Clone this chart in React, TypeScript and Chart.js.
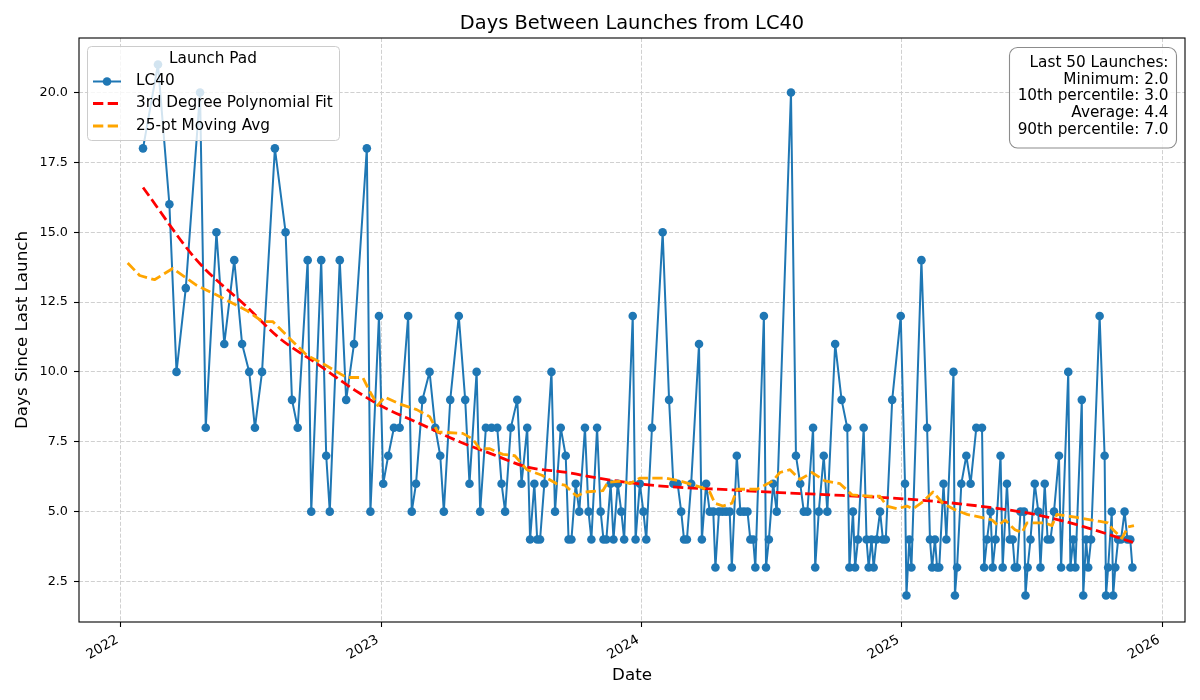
import { useEffect, useRef } from "react";
import { Chart, registerables } from "chart.js";
import type { Plugin } from "chart.js";

Chart.register(...registerables);

// days since the previous launch, one value per LC40 launch, oldest first
const FIRST_LAUNCH = "2022-02-01";
const GAP_DAYS = [
  18, 21, 16, 10, 13, 20, 8, 15, 11, 14,
  11, 10, 8, 10, 18, 15, 9, 8, 14, 5,
  14, 7, 5, 14, 9, 11, 18, 5, 12, 6,
  7, 8, 8, 12, 5, 6, 9, 10, 8, 7,
  5, 9, 12, 9, 6, 10, 5, 8, 8, 8,
  6, 5, 8, 9, 6, 8, 4, 6, 4, 4,
  6, 10, 5, 8, 7, 4, 4, 6, 5, 8,
  5, 4, 8, 5, 4, 4, 6, 4, 6, 5,
  4, 12, 4, 6, 5, 4, 8, 15, 9, 6,
  6, 5, 4, 4, 6, 11, 4, 6, 5, 5,
  3, 5, 5, 5, 5, 3, 7, 5, 5, 5,
  4, 4, 3, 12, 3, 4, 6, 5, 20, 7,
  6, 5, 5, 8, 3, 5, 7, 5, 11, 9,
  8, 3, 5, 3, 4, 8, 4, 3, 4, 3,
  4, 5, 4, 4, 9, 12, 6, 2, 4, 3,
  14, 8, 4, 3, 4, 3, 3, 6, 4, 10,
  2, 3, 6, 7, 6, 8, 8, 3, 4, 5,
  3, 4, 7, 3, 6, 4, 4, 3, 3, 5,
  5, 2, 3, 4, 6, 5, 3, 6, 4, 4,
  5, 7, 3, 10, 3, 4, 3, 9, 2, 4,
  3, 4, 12, 7, 2, 3, 5, 2, 3, 4,
  4, 5, 4, 4, 3,
];

// 3rd degree polynomial fit (decimal year -> days)
const FIT_YEARS = [
  2022.085, 2022.291, 2022.487, 2022.61, 2022.752, 2022.898, 2023.006, 2023.136,
  2023.301, 2023.428, 2023.559, 2023.713, 2023.832, 2024.001, 2024.147, 2024.339,
  2024.531, 2024.723, 2024.934, 2025.146, 2025.338, 2025.511, 2025.684, 2025.887,
];
const FIT_VALUES = [
  16.6, 14.0, 12.3, 11.2, 10.3, 9.35, 8.75, 8.2,
  7.5, 7.05, 6.6, 6.4, 6.2, 5.98, 5.87, 5.78,
  5.68, 5.6, 5.5, 5.35, 5.15, 4.9, 4.5, 3.9,
];

// 25-pt moving average
const AVG_YEARS = [
  2022.026, 2022.072, 2022.129, 2022.199, 2022.291, 2022.379, 2022.483, 2022.544,
  2022.583, 2022.648, 2022.714, 2022.775, 2022.867, 2022.929, 2022.956, 2022.986,
  2023.013, 2023.071, 2023.136, 2023.186, 2023.217, 2023.313, 2023.351, 2023.378,
  2023.417, 2023.467, 2023.513, 2023.559, 2023.617, 2023.674, 2023.705, 2023.751,
  2023.782, 2023.851, 2023.87, 2023.924, 2023.955, 2023.993, 2024.089, 2024.147,
  2024.235, 2024.262, 2024.281, 2024.312, 2024.347, 2024.366, 2024.443, 2024.504,
  2024.531, 2024.57, 2024.608, 2024.654, 2024.704, 2024.762, 2024.808, 2024.877,
  2024.915, 2024.942, 2024.981, 2025.019, 2025.042, 2025.08, 2025.119, 2025.157,
  2025.196, 2025.25, 2025.3, 2025.346, 2025.369, 2025.396, 2025.434, 2025.461,
  2025.48, 2025.549, 2025.576, 2025.595, 2025.665, 2025.761, 2025.791, 2025.811,
  2025.845, 2025.868, 2025.891,
];
const AVG_VALUES = [
  13.9, 13.45, 13.3, 13.7, 13.1, 12.7, 12.2, 11.8,
  11.8, 11.2, 10.6, 10.3, 9.8, 9.8, 9.3, 8.8,
  9.1, 8.85, 8.65, 8.4, 7.85, 7.8, 7.6, 7.25,
  7.25, 7.05, 7.0, 6.5, 6.3, 6.0, 5.95, 5.55,
  5.7, 5.75, 6.05, 6.1, 6.0, 6.2, 6.2, 6.1,
  5.85, 5.7, 5.3, 5.2, 5.3, 5.8, 5.8, 6.1,
  6.4, 6.5, 6.15, 6.4, 6.1, 6.0, 5.6, 5.55,
  5.55, 5.2, 5.1, 5.2, 5.1, 5.35, 5.7, 5.3,
  5.1, 4.9, 4.8, 4.7, 4.5, 4.7, 4.35, 4.25,
  4.6, 4.6, 4.5, 4.9, 4.8, 4.65, 4.6, 4.35,
  4.05, 4.45, 4.5,
];

const YEAR_TICKS = [2022, 2023, 2024, 2025, 2026];
const Y_TICKS = [2.5, 5, 7.5, 10, 12.5, 15, 17.5, 20];
const SERIES_LABELS = ["LC40", "3rd Degree Polynomial Fit", "25-pt Moving Avg"];
const STATS_LINES = [
  "Last 50 Launches:",
  "Minimum: 2.0",
  "10th percentile: 3.0",
  "Average: 4.4",
  "90th percentile: 7.0",
];

const FONT = "'DejaVu Sans', sans-serif";
const BLUE = "#1f77b4";
const RED = "#ff0000";
const ORANGE = "#ffa500";
const DASH = [10.3, 4.4];
const DAY_MS = 86400000;

function toYear(ms: number) {
  return 2022 + (ms - Date.UTC(2022, 0, 1)) / (365.25 * DAY_MS);
}

function launchPoints() {
  let t = Date.parse(FIRST_LAUNCH);
  return GAP_DAYS.map((gap, i) => {
    if (i > 0) t += gap * DAY_MS;
    return { x: toYear(t), y: gap };
  });
}

const decorations: Plugin<"line"> = {
  id: "decorations",
  afterDraw(chart) {
    const { ctx, chartArea: a } = chart;
    const midX = (a.left + a.right) / 2;
    ctx.save();

    // axes frame
    ctx.strokeStyle = "#000";
    ctx.lineWidth = 1.1;
    ctx.strokeRect(a.left, a.top, a.right - a.left, a.bottom - a.top);

    // rotated year labels, right end at the tick like autofmt_xdate
    const xScale = chart.scales.x;
    ctx.fillStyle = "#000";
    ctx.font = `13.5px ${FONT}`;
    ctx.textAlign = "right";
    ctx.textBaseline = "middle";
    YEAR_TICKS.forEach((year) => {
      const px = xScale.getPixelForValue(year);
      ctx.save();
      ctx.translate(px - 3.5, a.bottom + 17);
      ctx.rotate(-Math.PI / 6);
      ctx.fillText(String(year), 0, 0);
      ctx.restore();
    });

    // title and axis labels
    ctx.textAlign = "center";
    ctx.font = `19.4px ${FONT}`;
    ctx.fillText("Days Between Launches from LC40", midX, 24);
    ctx.font = `16.7px ${FONT}`;
    ctx.fillText("Date", midX, 676);
    ctx.save();
    ctx.translate(23, (a.top + a.bottom) / 2);
    ctx.rotate(-Math.PI / 2);
    ctx.fillText("Days Since Last Launch", 0, 0);
    ctx.restore();

    // legend
    ctx.beginPath();
    ctx.roundRect(87.5, 46.5, 252, 94, 4);
    ctx.fillStyle = "rgba(255,255,255,0.8)";
    ctx.fill();
    ctx.strokeStyle = "#cccccc";
    ctx.lineWidth = 1;
    ctx.stroke();

    ctx.font = `15.3px ${FONT}`;
    ctx.fillStyle = "#000";
    ctx.fillText("Launch Pad", 213, 59);

    const rows = [81.5, 103.5, 126];
    const styles = [
      { color: BLUE, width: 2, dash: [] as number[] },
      { color: RED, width: 2.8, dash: DASH },
      { color: ORANGE, width: 2.8, dash: DASH },
    ];
    rows.forEach((y, i) => {
      const s = styles[i];
      ctx.beginPath();
      ctx.setLineDash(s.dash);
      ctx.strokeStyle = s.color;
      ctx.lineWidth = s.width;
      ctx.moveTo(93, y);
      ctx.lineTo(121, y);
      ctx.stroke();
      ctx.setLineDash([]);
      if (i === 0) {
        ctx.beginPath();
        ctx.arc(107, y, 4.3, 0, Math.PI * 2);
        ctx.fillStyle = BLUE;
        ctx.fill();
      }
      ctx.fillStyle = "#000";
      ctx.textAlign = "left";
      ctx.fillText(SERIES_LABELS[i], 136, y);
    });

    // stats box
    ctx.beginPath();
    ctx.roundRect(1009.5, 47.5, 167, 100.5, 8);
    ctx.fillStyle = "rgba(255,255,255,0.8)";
    ctx.fill();
    ctx.strokeStyle = "#8c8c8c";
    ctx.lineWidth = 1.1;
    ctx.stroke();
    ctx.fillStyle = "#000";
    ctx.textAlign = "right";
    STATS_LINES.forEach((line, i) => {
      ctx.fillText(line, 1168.5, 62.7 + i * 16.9);
    });

    ctx.restore();
  },
};

export default function App() {
  const chartRef = useRef<HTMLCanvasElement>(null);

  useEffect(() => {
    document.body.style.margin = "0";
    if (!chartRef.current) return;
    const ctx = chartRef.current.getContext("2d");
    if (!ctx) return;

    Chart.defaults.font.family = FONT;

    const grid = {
      color: "#d0d0d0",
      lineWidth: 1,
      tickLength: 5,
      tickColor: "#000",
      tickWidth: 1.1,
    };

    const chartInstance = new Chart(ctx, {
      type: "line",
      data: {
        datasets: [
          {
            label: SERIES_LABELS[0],
            data: launchPoints(),
            borderColor: BLUE,
            backgroundColor: BLUE,
            borderWidth: 2,
            borderJoinStyle: "round",
            pointRadius: 4.3,
            pointBorderWidth: 0,
            pointBackgroundColor: BLUE,
            tension: 0,
            order: 3,
          },
          {
            label: SERIES_LABELS[1],
            data: FIT_YEARS.map((x, i) => ({ x, y: FIT_VALUES[i] })),
            borderColor: RED,
            borderWidth: 2.8,
            borderDash: DASH,
            pointRadius: 0,
            cubicInterpolationMode: "monotone",
            order: 2,
          },
          {
            label: SERIES_LABELS[2],
            data: AVG_YEARS.map((x, i) => ({ x, y: AVG_VALUES[i] })),
            borderColor: ORANGE,
            borderWidth: 2.8,
            borderDash: DASH,
            borderJoinStyle: "round",
            pointRadius: 0,
            tension: 0,
            order: 1,
          },
        ],
      },
      options: {
        animation: false,
        responsive: true,
        maintainAspectRatio: false,
        events: [],
        layout: { padding: { top: 38, right: 15, left: 0, bottom: 0 } },
        plugins: {
          legend: { display: false },
          title: { display: false },
          tooltip: { enabled: false },
        },
        scales: {
          x: {
            type: "linear",
            bounds: "data",
            min: 2021.839,
            max: 2026.087,
            afterBuildTicks: (scale) => {
              scale.ticks = YEAR_TICKS.map((value) => ({ value }));
            },
            afterFit: (scale) => {
              scale.height = 78;
            },
            ticks: { display: false, autoSkip: false },
            grid,
            border: { display: false, dash: [4.1, 1.8] },
          },
          y: {
            type: "linear",
            bounds: "data",
            min: 1.05,
            max: 21.95,
            afterBuildTicks: (scale) => {
              scale.ticks = Y_TICKS.map((value) => ({ value }));
            },
            afterFit: (scale) => {
              scale.width = 79;
            },
            ticks: {
              padding: 6,
              color: "#000",
              font: { family: FONT, size: 12.8 },
              callback: (v) => Number(v).toFixed(1),
            },
            grid,
            border: { display: false, dash: [4.1, 1.8] },
          },
        },
      },
      plugins: [decorations],
    });

    return () => {
      chartInstance.destroy();
    };
  }, []);

  return (
    <div style={{ width: 1200, height: 700, position: "relative" }}>
      <canvas ref={chartRef}></canvas>
    </div>
  );
}
